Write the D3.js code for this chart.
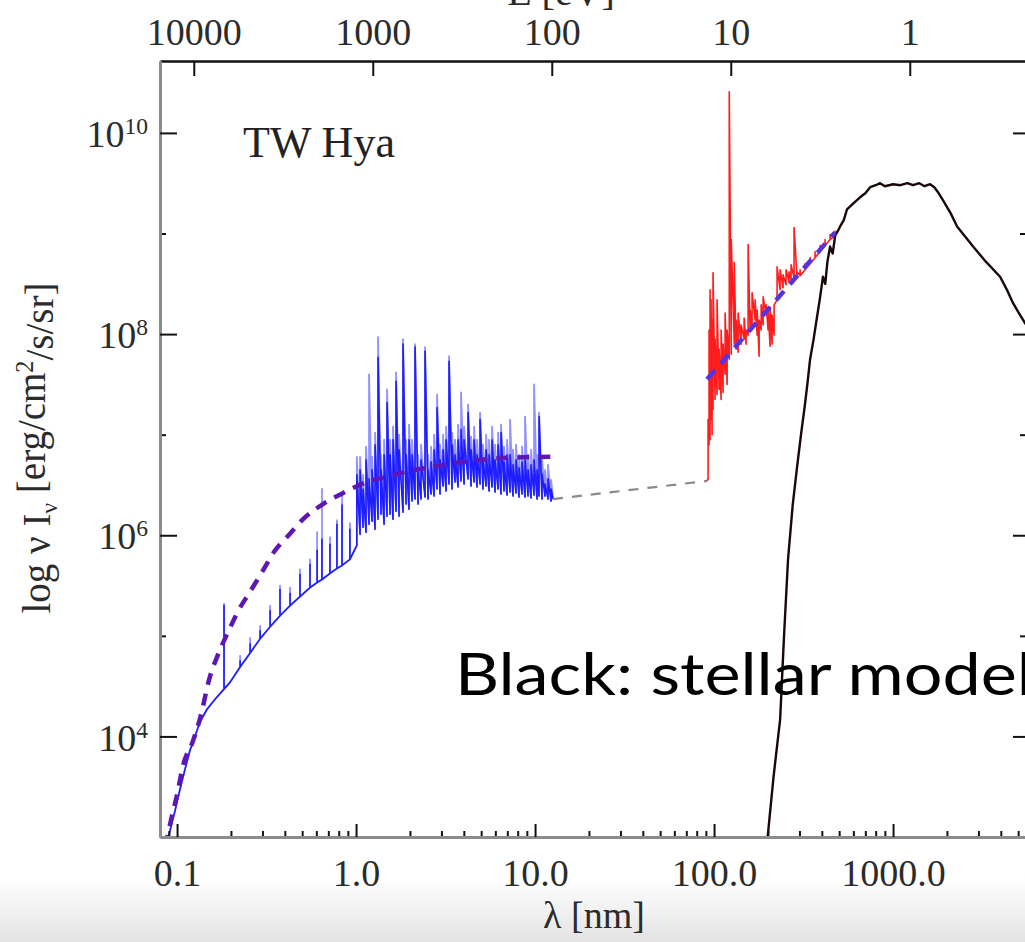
<!DOCTYPE html>
<html>
<head>
<meta charset="utf-8">
<title>TW Hya</title>
<script src="https://cdn.jsdelivr.net/npm/d3@7"></script>
<style>
  html, body { margin: 0; padding: 0; background: #fff; }
  svg { display: block; }
</style>
</head>
<body>
<div id="chart"></div>
<script>
// X-ray spectrum, binned: wavelength [nm] and log10 of the low / high envelope in each bin
const xrayLambda = [0.088, 0.0974, 0.104, 0.111, 0.118, 0.126, 0.134, 0.147, 0.163, 0.183, 0.198, 0.225, 0.256, 0.291, 0.331, 0.376, 0.428, 0.486, 0.553, 0.606, 0.645, 0.715, 0.782, 0.835, 0.924, 1.01,
  1.053, 1.094, 1.137, 1.182, 1.228, 1.277, 1.327, 1.379, 1.434, 1.490, 1.549, 1.609, 1.673, 1.739, 1.830, 1.902, 1.977, 2.055, 2.136, 2.220,
  2.307, 2.429, 2.525, 2.624, 2.728, 2.835, 2.946, 3.062, 3.183, 3.308, 3.438, 3.573, 3.714, 3.860, 4.012, 4.224, 4.390, 4.563, 4.742, 4.929,
  5.123, 5.324, 5.534, 5.752, 5.978, 6.213, 6.457, 6.711, 6.975, 7.250, 7.535, 7.831, 8.139, 8.459, 8.792, 9.138, 9.499, 9.872, 10.26, 10.53,
  10.94, 11.37, 11.82, 12.29, 12.60];
const xrayLogLow = [2.95, 3.26, 3.48, 3.68, 3.86, 4.00, 4.14, 4.27, 4.37, 4.47, 4.54, 4.69, 4.83, 4.97, 5.09, 5.20, 5.30, 5.39, 5.48, 5.53, 5.56, 5.62, 5.67, 5.70, 5.76, 5.90,
  6.01, 6.08, 6.03, 6.11, 6.14, 6.06, 6.16, 6.21, 6.11, 6.19, 6.21, 6.16, 6.24, 6.19, 6.23, 6.31, 6.26, 6.34, 6.36, 6.31,
  6.36, 6.38, 6.36, 6.41, 6.39, 6.46, 6.41, 6.49, 6.44, 6.51, 6.46, 6.53, 6.48, 6.54, 6.51, 6.56, 6.49, 6.53, 6.48, 6.51,
  6.46, 6.49, 6.44, 6.48, 6.43, 6.46, 6.41, 6.44, 6.40, 6.43, 6.39, 6.42, 6.38, 6.41, 6.38, 6.39, 6.37, 6.40, 6.36, 6.39,
  6.36, 6.39, 6.36, 6.34, 6.36];
const xrayLogHighDark = [2.95, 3.26, 3.48, 3.68, 3.86, 4.00, 4.14, 4.27, 4.37, 5.30, 4.54, 4.75, 4.92, 5.05, 5.25, 5.46, 5.42, 5.61, 5.71, 5.85, 5.96, 5.91, 6.11, 6.30, 6.06, 6.60,
  6.65, 6.46, 6.75, 6.56, 6.65, 6.90, 7.77, 6.65, 6.80, 7.32, 6.80, 6.95, 7.53, 6.85, 7.90, 6.80, 6.95, 6.80, 7.87, 6.65,
  6.75, 7.83, 6.65, 6.73, 6.85, 7.27, 6.75, 6.85, 6.95, 7.73, 6.90, 6.80, 6.95, 7.05, 6.95, 7.22, 6.85, 6.95, 6.80, 7.15,
  6.75, 6.85, 6.80, 6.95, 6.75, 6.90, 7.02, 6.73, 6.80, 6.80, 6.70, 6.75, 6.67, 6.73, 6.75, 6.65, 6.70, 6.75, 6.65, 7.18,
  6.61, 6.51, 6.56, 6.46, 6.36];
const xrayLogHighLight = [2.95, 3.26, 3.48, 3.68, 3.86, 4.00, 4.14, 4.27, 4.37, 5.32, 4.54, 4.80, 4.98, 5.10, 5.30, 5.50, 5.48, 5.66, 5.76, 6.03, 6.46, 5.98, 6.15, 6.39, 6.12, 6.78,
  6.78, 6.60, 6.88, 7.60, 6.78, 7.02, 7.97, 6.80, 6.95, 7.45, 6.95, 7.08, 7.62, 7.00, 7.95, 6.95, 7.10, 6.95, 7.90, 6.80,
  6.90, 7.87, 6.80, 6.88, 7.00, 7.40, 6.90, 7.00, 7.08, 7.78, 7.02, 6.95, 7.10, 7.42, 7.08, 7.30, 6.98, 7.08, 6.95, 7.22,
  6.90, 7.00, 6.95, 7.08, 6.90, 7.02, 7.10, 6.88, 6.95, 7.15, 6.85, 6.90, 6.80, 6.88, 7.18, 6.80, 6.85, 7.50, 6.80, 7.22,
  6.75, 6.65, 6.70, 6.55, 6.36];

// X-ray model (dashed)
const xrayModelLambda = [0.086, 0.092, 0.1, 0.108, 0.123, 0.134, 0.153, 0.17, 0.193, 0.22, 0.256, 0.3, 0.35, 0.43, 0.506, 0.654, 0.868, 1.15, 1.55, 2.0, 2.7, 4.0, 7.0, 12.4];
const xrayModelLogI = [2.9, 3.15, 3.42, 3.71, 3.96, 4.17, 4.6, 4.82, 5.04, 5.25, 5.44, 5.64, 5.84, 6.02, 6.16, 6.31, 6.43, 6.53, 6.59, 6.64, 6.68, 6.73, 6.77, 6.78];

// FUV / UV spectrum, binned the same way
const uvLambda = [91.4, 92.6, 93.8, 95.0, 96.2, 97.5, 98.7, 101.3, 103.9, 106.7, 109.5, 112.3, 115.3, 118.3, 121.6, 124.8, 129.7, 132.8, 136.3, 141.6,
  147.2, 151.0, 155.0, 159.0, 163.1, 169.6, 174.1, 178.6, 183.3, 188.0, 195.3, 200.4, 205.6, 211.0, 216.5, 225.0, 233.8, 243.0, 252.5, 262.4,
  269.3, 279.9, 290.9, 302.5, 322.5, 344.0, 366.7, 391.2, 417.1, 444.8, 474.4];
const uvLogLow = [6.54, 6.56, 6.90, 6.95, 7.15, 7.00, 7.25, 7.35, 7.40, 7.45, 7.35, 7.42, 7.60, 7.50, 7.75, 7.80, 7.90, 7.85, 7.82, 7.90,
  7.95, 7.90, 7.99, 8.04, 8.07, 8.14, 7.99, 7.78, 8.04, 8.09, 8.19, 8.04, 7.88, 7.90, 7.99, 8.34, 8.44, 8.46, 8.49, 8.52,
  8.54, 8.56, 8.56, 8.58, 8.64, 8.70, 8.76, 8.82, 8.88, 8.94, 8.98];
const uvLogHigh = [6.54, 7.15, 8.04, 8.44, 8.34, 8.14, 8.61, 7.95, 8.34, 7.85, 8.04, 7.90, 8.21, 8.04, 10.41, 8.94, 8.71, 8.14, 8.21, 8.09,
  8.16, 8.04, 8.89, 8.24, 8.41, 8.34, 8.24, 8.14, 8.29, 8.37, 8.29, 8.24, 8.27, 8.19, 8.29, 8.67, 8.64, 8.59, 8.64, 8.62,
  8.69, 9.06, 8.62, 8.64, 8.70, 8.76, 8.82, 8.88, 8.94, 8.99, 9.03];

// UV model (dashed) and the gap between the two data sets
const uvModelLambda = [91.4, 474];
const uvModelLogI = [7.55, 9.01];
const gapLambda = [12.6, 91.4];
const gapLogI = [6.36, 6.54];

// stellar photosphere model
const stellarLambda = [198, 215, 234, 246, 259, 275, 291, 306, 322, 333, 344, 360, 376, 390, 406, 418, 430, 445, 460, 475,
  490, 506, 530, 553, 600, 654, 700, 745, 800, 846, 900, 1000, 1100, 1200, 1294, 1400, 1500, 1611, 1700, 1800,
  1903, 2100, 2279, 2500, 2800, 3300, 3963, 4300, 4677, 5000, 5460, 5600];
const stellarLogI = [2.95, 3.60, 4.17, 5.00, 5.76, 6.30, 6.68, 7.00, 7.30, 7.52, 7.75, 7.95, 8.17, 8.35, 8.57, 8.50, 8.72, 8.87, 8.80, 8.98,
  9.02, 9.07, 9.13, 9.24, 9.30, 9.36, 9.40, 9.46, 9.48, 9.50, 9.47, 9.49, 9.48, 9.50, 9.48, 9.50, 9.47, 9.49, 9.46, 9.40,
  9.33, 9.20, 9.07, 8.98, 8.87, 8.72, 8.57, 8.45, 8.31, 8.22, 8.11, 8.08];

const lambdaTicks = [0.1, 1, 10, 100, 1000];
const energyTicks = [10000, 1000, 100, 10, 1];
const intensityTicks = [1e4, 1e6, 1e8, 1e10];
const intensityMinorTicks = [1e5, 1e7, 1e9];

const width = 1025, height = 942;
const plot = { left: 160, right: 1026, top: 61, bottom: 837 };
const hc = 1239.84; // eV nm
const serif = '"Liberation Serif", "Times New Roman", serif';

const svg = d3.select('#chart').append('svg')
  .attr('width', width)
  .attr('height', height);

// the slide is a little grey along the bottom
const grad = svg.append('defs').append('linearGradient')
  .attr('id', 'floor').attr('x1', 0).attr('x2', 0).attr('y1', 0).attr('y2', 1);
grad.append('stop').attr('offset', 0).attr('stop-color', '#ffffff');
grad.append('stop').attr('offset', 1).attr('stop-color', '#e3e3e3');
svg.append('rect').attr('x', 0).attr('y', 878).attr('width', width).attr('height', height - 878).attr('fill', 'url(#floor)');

svg.select('defs').append('clipPath').attr('id', 'plotclip')
  .append('rect')
  .attr('x', plot.left).attr('y', plot.top)
  .attr('width', plot.right - plot.left).attr('height', plot.bottom - plot.top);

const x = d3.scaleLog().domain([0.0803, 5530]).range([plot.left, plot.right]);
const y = d3.scaleLog().domain([1e3, Math.pow(10, 10.715)]).range([plot.bottom, plot.top]);
const xE = d3.scaleLog().domain([hc / 0.0803, hc / 5530]).range([plot.left, plot.right]);

const line = d3.line().x(d => x(d[0])).y(d => y(Math.pow(10, d[1])));
const smooth = d3.line().x(d => x(d[0])).y(d => y(Math.pow(10, d[1]))).curve(d3.curveMonotoneX);

// each bin: continuum level, up to the line peak; where bins are far apart
// drop back to the continuum so the spike stays narrow
function binned(lams, lows, highs) {
  const pts = [];
  lams.forEach((l, i) => {
    pts.push([l, lows[i]]);
    if (highs[i] === lows[i]) return;
    pts.push([l, highs[i]]);
    const next = lams[i + 1];
    if (next !== undefined && x(next) - x(l) > 4.5) pts.push([l, lows[i]]);
  });
  return pts;
}
const pairs = (a, b) => a.map((v, i) => [v, b[i]]);

const data = svg.append('g').attr('clip-path', 'url(#plotclip)');

data.append('path')
  .attr('d', line(binned(xrayLambda, xrayLogLow, xrayLogHighLight)))
  .attr('fill', 'none').attr('stroke', '#9191ff').attr('stroke-width', 1.8).attr('stroke-linejoin', 'round');
data.append('path')
  .attr('d', line(binned(xrayLambda, xrayLogLow, xrayLogHighDark)))
  .attr('fill', 'none').attr('stroke', '#1d1dff').attr('stroke-width', 1.6).attr('stroke-linejoin', 'round');

data.append('path')
  .attr('d', line(pairs(gapLambda, gapLogI)))
  .attr('fill', 'none').attr('stroke', '#8a8a8a').attr('stroke-width', 2.2).attr('stroke-dasharray', '10,9');

data.append('path')
  .attr('d', line(binned(uvLambda, uvLogLow, uvLogHigh)))
  .attr('fill', 'none').attr('stroke', '#ff1c1c').attr('stroke-width', 1.6).attr('stroke-linejoin', 'round');

data.append('path')
  .attr('d', line(pairs(stellarLambda, stellarLogI)))
  .attr('fill', 'none').attr('stroke', '#1a0808').attr('stroke-width', 2.4).attr('stroke-linejoin', 'round');

data.append('path')
  .attr('d', smooth(pairs(xrayModelLambda, xrayModelLogI)))
  .attr('fill', 'none').attr('stroke', '#5e17b5').attr('stroke-width', 4.5).attr('stroke-dasharray', '12,9');

data.append('path')
  .attr('d', line(pairs(uvModelLambda, uvModelLogI)))
  .attr('fill', 'none').attr('stroke', '#5633e0').attr('stroke-width', 4.5).attr('stroke-dasharray', '12,9');

// axes
function styleAxis(g, domainColor, domainWidth) {
  g.attr('font-family', serif).attr('font-size', 38).attr('color', '#2b2b2b');
  g.select('.domain').attr('stroke', domainColor).attr('stroke-width', domainWidth);
  g.selectAll('.tick line').attr('stroke', '#111').attr('stroke-width', 2);
}

const minorLambda = x.ticks().filter(d => !lambdaTicks.includes(d));

svg.append('g')
  .attr('transform', `translate(0,${plot.bottom})`)
  .call(d3.axisBottom(x).tickValues(minorLambda).tickSize(-6).tickSizeOuter(0).tickFormat(''))
  .call(g => styleAxis(g, '#8c8c8c', 3));
svg.append('g')
  .attr('transform', `translate(0,${plot.bottom})`)
  .call(d3.axisBottom(x).tickValues(lambdaTicks).tickSize(-13).tickSizeOuter(0).tickPadding(22).tickFormat(d3.format('.1f')))
  .call(g => styleAxis(g, '#8c8c8c', 3));

svg.append('g')
  .attr('transform', `translate(0,${plot.top})`)
  .call(d3.axisTop(xE).tickValues(energyTicks).tickSize(-15).tickSizeOuter(0).tickPadding(16).tickFormat(d3.format('d')))
  .call(g => styleAxis(g, '#111', 2.5));

svg.append('g')
  .attr('transform', `translate(${plot.left},0)`)
  .call(d3.axisLeft(y).tickValues(intensityMinorTicks).tickSize(-6).tickSizeOuter(0).tickFormat(''))
  .call(g => styleAxis(g, '#8c8c8c', 3));
svg.append('g')
  .attr('transform', `translate(${plot.left},0)`)
  .call(d3.axisLeft(y).tickValues(intensityTicks).tickSize(-17).tickSizeOuter(0).tickPadding(12))
  .call(g => styleAxis(g, '#8c8c8c', 3))
  .call(g => g.selectAll('.tick text').attr('dy', '0.36em').each(function (d) {
    const t = d3.select(this).text('10');
    t.append('tspan').attr('dy', '-0.55em').attr('font-size', '0.62em').text(Math.round(Math.log10(d)));
  }));

svg.append('g')
  .attr('transform', `translate(${plot.right},0)`)
  .call(d3.axisRight(y).tickValues(intensityMinorTicks).tickSize(-6).tickSizeOuter(0).tickFormat(''))
  .call(g => styleAxis(g, '#8c8c8c', 3));
svg.append('g')
  .attr('transform', `translate(${plot.right},0)`)
  .call(d3.axisRight(y).tickValues(intensityTicks).tickSize(-13).tickSizeOuter(0).tickFormat(''))
  .call(g => styleAxis(g, '#8c8c8c', 3));

// titles
svg.append('text')
  .attr('x', 594).attr('y', 928)
  .attr('text-anchor', 'middle')
  .attr('font-family', serif).attr('font-size', 38).attr('fill', '#2b2b2b')
  .text('λ [nm]');

// the slide crops this one at the top edge, as in the original
svg.append('text')
  .attr('x', 561).attr('y', 5)
  .attr('text-anchor', 'middle')
  .attr('font-family', serif).attr('font-size', 40).attr('fill', '#2b2b2b')
  .text('E [eV]');

const ylab = svg.append('text')
  .attr('transform', 'translate(50,448) rotate(-90)')
  .attr('text-anchor', 'middle')
  .attr('font-family', serif).attr('font-size', 39).attr('fill', '#2b2b2b');
ylab.append('tspan').text('log ν I');
ylab.append('tspan').attr('dy', '0.3em').attr('font-size', '0.6em').text('ν');
ylab.append('tspan').attr('dy', '-0.3em').text('  [erg/cm');
ylab.append('tspan').attr('dy', '-0.5em').attr('font-size', '0.62em').text('2');
ylab.append('tspan').attr('dy', '0.5em').text('/s/sr]');

svg.append('text')
  .attr('x', 243).attr('y', 157)
  .attr('font-family', serif).attr('font-size', 44).attr('fill', '#222')
  .text('TW Hya');

svg.append('text')
  .attr('x', 455).attr('y', 695)
  .attr('font-family', '"Lato", "Open Sans", sans-serif').attr('font-size', 59).attr('fill', '#000')
  .attr('textLength', 578).attr('lengthAdjust', 'spacingAndGlyphs')
  .text('Black: stellar model');
</script>
</body>
</html>
